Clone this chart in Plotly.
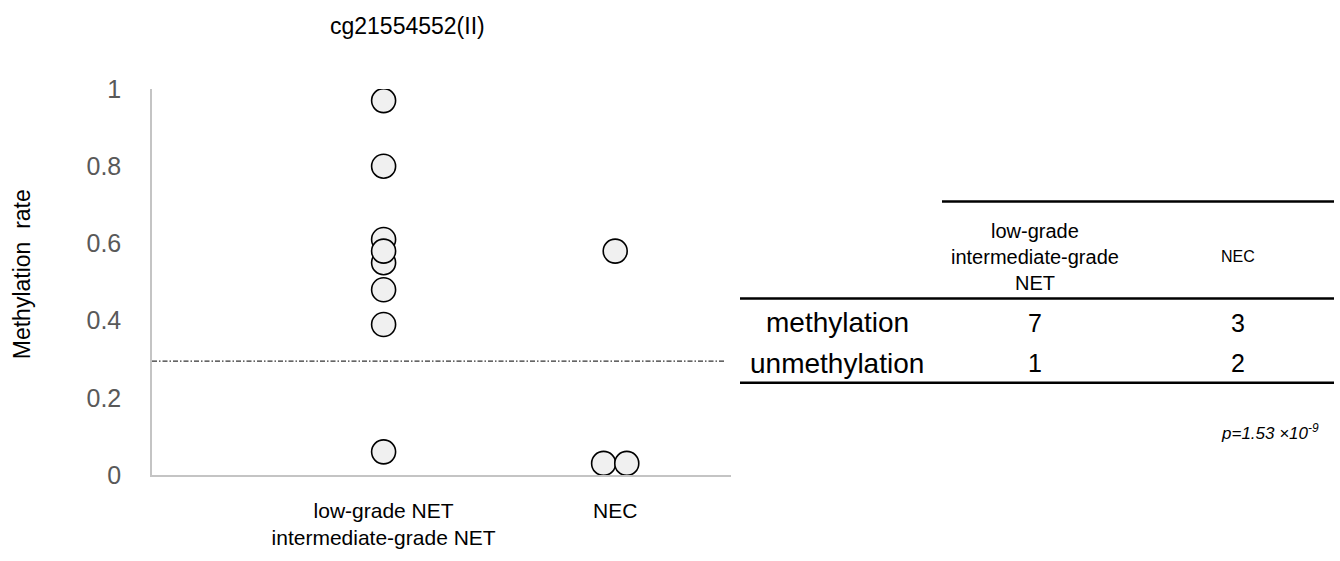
import plotly.graph_objects as go

# ---- data -------------------------------------------------------------
title_text = "cg21554552(II)"
y_title = "Methylation\u00a0 rate"
category_labels = ["low-grade NET<br>intermediate-grade NET", "NEC"]
category_pos = [1, 2]

# methylation rate per sample
net_x = [1, 1, 1, 1, 1, 1, 1, 1]
net_y = [0.97, 0.80, 0.61, 0.55, 0.48, 0.39, 0.06, 0.58]
nec_x = [2.0, 1.95, 2.05]
nec_y = [0.58, 0.03, 0.03]

cutoff = 0.295
y_ticks = [0, 0.2, 0.4, 0.6, 0.8, 1]

# contingency table
table_cols = ["low-grade<br>intermediate-grade<br>NET", "NEC"]
table_rows = ["methylation", "unmethylation"]
table_counts = [[7, 3], [1, 2]]
p_text = "p=1.53 \u00d710<sup>-9</sup>"

# ---- layout geometry (pixels) ----------------------------------------
W, H = 1340, 561
L, R, T, B = 152, 731, 89, 487
FONT = "Liberation Sans, Arial, sans-serif"


def xp(px):
    return (px - L) / (R - L)


def yp(py):
    return (B - py) / (B - T)


marker = dict(size=24, color="#f0f0f0", line=dict(color="#000000", width=1.6))

fig = go.Figure()
fig.add_trace(go.Scatter(x=net_x, y=net_y, mode="markers", marker=marker,
                         showlegend=False, hoverinfo="y"))
fig.add_trace(go.Scatter(x=nec_x, y=nec_y, mode="markers", marker=marker,
                         showlegend=False, hoverinfo="y"))

# cut-off line
fig.add_shape(type="line", xref="paper", yref="y", x0=0, x1=xp(726),
              y0=cutoff, y1=cutoff,
              line=dict(color="#333333", width=1.3, dash="5px,2px,1.5px,2px"),
              layer="below")

annotations = []
# table header
col_x = [1035, 1238]
col_font = [20, 16]
for cx, txt, fs in zip(col_x, table_cols, col_font):
    annotations.append(dict(x=xp(cx), y=yp(262), xref="paper", yref="paper",
                            text=txt, showarrow=False, xanchor="center",
                            yanchor="middle",
                            font=dict(family=FONT, size=fs, color="#000000")))
# table body
row_y = [330, 372]
for ry, rlabel, counts in zip(row_y, table_rows, table_counts):
    annotations.append(dict(x=xp(837), y=yp(ry), xref="paper", yref="paper",
                            text=rlabel, showarrow=False, xanchor="center",
                            yanchor="middle",
                            font=dict(family=FONT, size=28, color="#000000")))
    for cx, c in zip(col_x, counts):
        annotations.append(dict(x=xp(cx), y=yp(ry), xref="paper", yref="paper",
                                text=str(c), showarrow=False, xanchor="center",
                                yanchor="middle",
                                font=dict(family=FONT, size=25, color="#000000")))
annotations.append(dict(x=xp(1270), y=yp(443), xref="paper", yref="paper",
                        text="<i>" + p_text + "</i>", showarrow=False,
                        xanchor="center", yanchor="middle",
                        font=dict(family=FONT, size=17, color="#000000")))
# chart title
annotations.append(dict(x=xp(407), y=yp(24), xref="paper", yref="paper",
                        text=title_text, showarrow=False, xanchor="center",
                        yanchor="middle",
                        font=dict(family=FONT, size=23, color="#000000")))
# y axis title
annotations.append(dict(x=xp(22), y=yp(280), xref="paper", yref="paper",
                        text=y_title, showarrow=False, textangle=-90,
                        xanchor="center", yanchor="middle",
                        font=dict(family=FONT, size=23, color="#000000")))

table_rules = [
    (942, 1334, 205),
    (740, 1334, 305),
    (740, 1334, 392),
]
for x0, x1, yy in table_rules:
    fig.add_shape(type="line", xref="paper", yref="paper",
                  x0=xp(x0), x1=xp(x1), y0=yp(yy), y1=yp(yy),
                  line=dict(color="#000000", width=2.5))

fig.update_layout(
    width=W, height=H,
    margin=dict(l=L, r=W - R, t=T, b=H - B, pad=0),
    paper_bgcolor="white", plot_bgcolor="white",
    annotations=annotations,
    font=dict(family=FONT, color="#000000"),
    xaxis=dict(range=[0, 2.5], tickvals=category_pos, ticktext=category_labels,
               showgrid=False, zeroline=False, showline=True,
               linecolor="#c4c4c4", linewidth=1.5, ticks="",
               tickfont=dict(family=FONT, size=21, color="#000000"),
               ticklabelstandoff=16),
    yaxis=dict(range=[0, 1], tickvals=y_ticks, showgrid=False, zeroline=False,
               showline=True, linecolor="#c4c4c4", linewidth=1.5, ticks="",
               tickfont=dict(family=FONT, size=25, color="#595959"),
               ticklabelstandoff=24),
)

fig.write_html("out.html")
